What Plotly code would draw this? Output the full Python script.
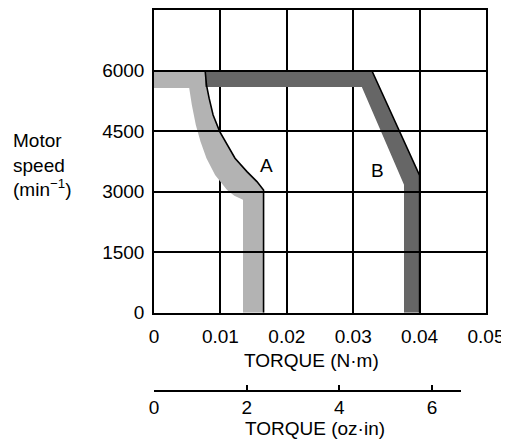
import plotly.graph_objects as go

# ---- data (torque in N·m, speed in min^-1) ----
a_outer_x = [0.0077, 0.0079, 0.0083, 0.0089, 0.0099, 0.0110, 0.0122, 0.0140, 0.0155, 0.0165, 0.0165]
a_outer_y = [6000, 5646, 5315, 4900, 4487, 4157, 3828, 3495, 3248, 3040, 0]
a_inner_x = [0.0134, 0.0134, 0.0121, 0.0110, 0.0092, 0.0079, 0.0070, 0.0063, 0.0057, 0.0053, 0.0]
a_inner_y = [0, 2800, 2900, 3042, 3414, 3828, 4239, 4653, 5149, 5570, 5570]

b_outer_x = [0.0077, 0.0328, 0.0400, 0.0400]
b_outer_y = [6000, 6000, 3400, 0]
b_inner_x = [0.03765, 0.03765, 0.0313, 0.0077]
b_inner_y = [0, 3170, 5590, 5590]

x_ticks = [0, 0.01, 0.02, 0.03, 0.04, 0.05]
x_ticklabels = ["0", "0.01", "0.02", "0.03", "0.04", "0.05"]
y_ticks = [0, 1500, 3000, 4500, 6000]
oz_ticks = [0, 2, 4, 6]

FONT = "Liberation Sans, Arial, sans-serif"
FS = 19

fig = go.Figure()

# band A (light gray)
fig.add_trace(go.Scatter(
    x=[0.0] + a_outer_x + a_inner_x, y=[6000] + a_outer_y + a_inner_y,
    fill="toself", fillcolor="#b3b3b3", mode="lines", line=dict(width=0),
    showlegend=False, hoverinfo="skip"))
# band B (dark gray)
fig.add_trace(go.Scatter(
    x=b_outer_x + b_inner_x, y=b_outer_y + b_inner_y,
    fill="toself", fillcolor="#666666", mode="lines", line=dict(width=0),
    showlegend=False, hoverinfo="skip"))
# outer edges (thin black)
fig.add_trace(go.Scatter(x=a_outer_x, y=a_outer_y, mode="lines",
                         line=dict(color="black", width=1.6),
                         showlegend=False, hoverinfo="skip"))
fig.add_trace(go.Scatter(x=b_outer_x[1:], y=b_outer_y[1:], mode="lines",
                         line=dict(color="black", width=1.6),
                         showlegend=False, hoverinfo="skip"))
# dummy trace to realise the secondary (oz·in) axis
fig.add_trace(go.Scatter(x=[0], y=[0], xaxis="x2", yaxis="y", mode="markers",
                         marker=dict(opacity=0), showlegend=False, hoverinfo="skip"))

# page body has an 8px margin: figure pixel = screen pixel - 8
OFF = 8
FW, FH = 509 - OFF, 442 - OFF
L, T = 154 - OFF, 10 - OFF
R = FW - (486 - OFF)
BOT = 400 - OFF          # paper bottom (figure px)
B = FH - BOT
H = BOT - T
W = FW - L - R
def px_x(p):             # screen px -> paper fraction
    return (p - OFF - L) / W
def px_y(p):
    return (BOT - (p - OFF)) / H

fig.update_layout(
    width=FW, height=FH,
    margin=dict(l=L, r=R, t=T, b=B, autoexpand=False),
    paper_bgcolor="white", plot_bgcolor="rgba(0,0,0,0)",
    font=dict(family=FONT, size=FS, color="black"),
    xaxis=dict(range=[0, 0.05], tickvals=x_ticks, ticktext=x_ticklabels,
               showgrid=True, gridcolor="black", gridwidth=1.5,
               showline=True, linecolor="black", linewidth=1.5, mirror=True,
               zeroline=False, ticks="", ticklabelstandoff=6, automargin=False,
               domain=[0, 1], anchor="y", layer="below traces"),
    yaxis=dict(range=[0, 7500], tickvals=y_ticks,
               showgrid=True, gridcolor="black", gridwidth=1.5,
               showline=True, linecolor="black", linewidth=1.5, mirror=True,
               zeroline=False, ticks="", ticklabelstandoff=4, automargin=False,
               domain=[px_y(312.7), 1], anchor="x"),
    xaxis2=dict(range=[0, 6.62], tickvals=oz_ticks,
                domain=[0, px_x(460.7)], anchor="free", position=px_y(390.7),
                showgrid=False, zeroline=False, showline=True, automargin=False,
                linecolor="black", linewidth=1.5,
                ticks="inside", ticklen=5, tickwidth=1.5, tickcolor="black",
                ticklabelstandoff=0),
    annotations=[
        dict(text="A", x=0.0170, y=3640, xref="x", yref="y", showarrow=False,
             font=dict(size=FS)),
        dict(text="B", x=0.0337, y=3520, xref="x", yref="y", showarrow=False,
             font=dict(size=FS)),
        dict(text="Motor<br>speed<br>(min<sup>−1</sup>)", x=px_x(11), y=px_y(165),
             xref="paper", yref="paper", xanchor="left", yanchor="middle",
             align="left", showarrow=False, font=dict(size=FS)),
        dict(text="TORQUE (N·m)", x=px_x(311.5), y=px_y(360), xref="paper", yref="paper",
             xanchor="center", yanchor="middle", showarrow=False, font=dict(size=FS)),
        dict(text="TORQUE (oz·in)", x=px_x(315), y=px_y(428), xref="paper", yref="paper",
             xanchor="center", yanchor="middle", showarrow=False, font=dict(size=FS)),
    ],
)

fig.write_html("out.html")
